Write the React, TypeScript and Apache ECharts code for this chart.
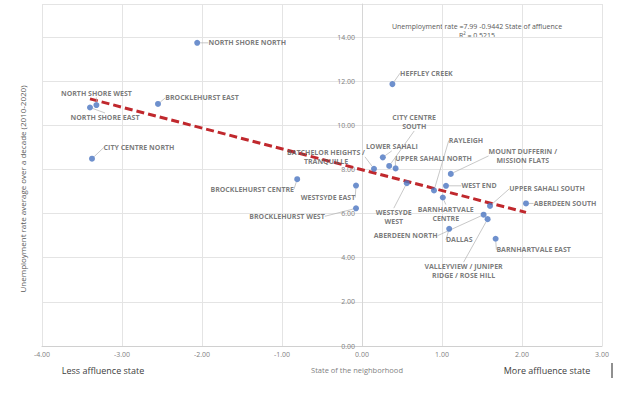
import React, { useEffect, useRef } from "react";
import * as echarts from "echarts";

const neighborhoods = [
  "NORTH SHORE NORTH",
  "HEFFLEY CREEK",
  "NORTH SHORE WEST",
  "NORTH SHORE EAST",
  "BROCKLEHURST EAST",
  "CITY CENTRE NORTH",
  "BROCKLEHURST CENTRE",
  "WESTSYDE EAST",
  "BROCKLEHURST WEST",
  "BATCHELOR HEIGHTS /\nTRANQUILLE",
  "LOWER SAHALI",
  "CITY CENTRE\nSOUTH",
  "UPPER SAHALI NORTH",
  "WESTSYDE\nWEST",
  "RAYLEIGH",
  "BARNHARTVALE\nCENTRE",
  "WEST END",
  "MOUNT DUFFERIN /\nMISSION FLATS",
  "UPPER SAHALI SOUTH",
  "ABERDEEN SOUTH",
  "ABERDEEN NORTH",
  "VALLEYVIEW / JUNIPER\nRIDGE / ROSE HILL",
  "DALLAS",
  "BARNHARTVALE EAST",
];

const affluence = [
  -2.06, 0.38, -3.32, -3.4, -2.55, -3.375, -0.81, -0.075, -0.075, 0.15, 0.26, 0.34,
  0.42, 0.56, 0.9, 1.01, 1.05, 1.11, 1.6, 2.05, 1.52, 1.57, 1.09, 1.67,
];

const unemployment = [
  13.74, 11.87, 10.92, 10.81, 10.97, 8.49, 7.56, 7.27, 6.24, 8.03, 8.55, 8.16,
  8.05, 7.38, 7.05, 6.73, 7.26, 7.8, 6.35, 6.46, 5.95, 5.75, 5.31, 4.86,
];

const xTicks = [-4, -3, -2, -1, 0, 1, 2, 3];
const yTicks = [0, 2, 4, 6, 8, 10, 12, 14];

const trendIntercept = 7.99;
const trendSlope = -0.9442;
const trendRange = [-3.4, 2.05];

// label nudges (pixels) relative to each point: [dx, dy]
const labelNudges: Record<string, [number, number]> = {
  "NORTH SHORE NORTH": [50, 0],
  "HEFFLEY CREEK": [34, -11],
  "NORTH SHORE WEST": [0, -12],
  "NORTH SHORE EAST": [15, 10],
  "BROCKLEHURST EAST": [44, -6],
  "CITY CENTRE NORTH": [47, -11],
  "BROCKLEHURST CENTRE": [-45, 10],
  "WESTSYDE EAST": [-28, 12],
  "BROCKLEHURST WEST": [-69, 8],
  "BATCHELOR HEIGHTS /\nTRANQUILLE": [-48, -12],
  "LOWER SAHALI": [9, -11],
  "CITY CENTRE\nSOUTH": [25, -44],
  "UPPER SAHALI NORTH": [38, -10],
  "WESTSYDE\nWEST": [-13, 34],
  "RAYLEIGH": [32, -50],
  "BARNHARTVALE\nCENTRE": [3, 16],
  "WEST END": [33, 0],
  "MOUNT DUFFERIN /\nMISSION FLATS": [72, -18],
  "UPPER SAHALI SOUTH": [57, -17],
  "ABERDEEN SOUTH": [39, 0],
  "ABERDEEN NORTH": [-78, 21],
  "VALLEYVIEW / JUNIPER\nRIDGE / ROSE HILL": [-24, 52],
  "DALLAS": [10, 11],
  "BARNHARTVALE EAST": [38, 11],
};

export default function App() {
  const ref = useRef<HTMLDivElement>(null);

  useEffect(() => {
    if (!ref.current) return;
    const chart = echarts.init(ref.current, undefined, { renderer: "svg" });

    const points = neighborhoods.map((n, i) => ({
      name: n,
      value: [affluence[i], unemployment[i]],
    }));

    const trend = trendRange.map((x) => [x, trendIntercept + trendSlope * x]);

    const font = "Open Sans, Lato, sans-serif";
    const gridLeft = 42;
    const gridRight = 18;
    const plotWidth = 620 - gridLeft - gridRight;
    const zeroOffset =
      (plotWidth * (0 - xTicks[0])) / (xTicks[xTicks.length - 1] - xTicks[0]);

    chart.setOption({
      animation: false,
      textStyle: { fontFamily: font },
      grid: { left: gridLeft, right: gridRight, top: 4, bottom: 52, containLabel: false },
      xAxis: {
        type: "value",
        min: xTicks[0],
        max: xTicks[xTicks.length - 1],
        interval: 1,
        axisLine: { show: true, lineStyle: { color: "#d0d0d0", width: 1 } },
        axisTick: { show: false },
        axisLabel: {
          color: "#7f7f7f",
          fontSize: 7,
          margin: 5,
          formatter: (v: number) => v.toFixed(2),
        },
        splitLine: { show: true, lineStyle: { color: "#e4e4e4", width: 1 } },
      },
      yAxis: {
        type: "value",
        position: "left",
        offset: -zeroOffset,
        min: yTicks[0],
        max: 15.5,
        interval: 2,
        axisLine: { show: true, onZero: false, lineStyle: { color: "#d6d6d6", width: 1 } },
        axisTick: { show: false },
        axisLabel: {
          color: "#7f7f7f",
          fontSize: 7,
          margin: 7,
          showMaxLabel: false,
          formatter: (v: number) => (yTicks.includes(v) ? v.toFixed(2) : ""),
        },
        splitLine: { show: true, lineStyle: { color: "#e4e4e4", width: 1 } },
      },
      series: [
        {
          type: "line",
          data: trend,
          symbol: "none",
          z: 3,
          lineStyle: { color: "#c0282d", width: 3, type: [8, 4] },
        },
        {
          type: "scatter",
          data: points,
          symbolSize: 6,
          z: 4,
          itemStyle: { color: "#4a74c0" },
          label: {
            show: true,
            position: "inside",
            formatter: (p: any) => p.name,
            color: "#595959",
            fontSize: 7,
            fontWeight: "bold",
            lineHeight: 9,
            align: "center",
            verticalAlign: "middle",
            fontFamily: font,
          },
          labelLine: {
            show: true,
            lineStyle: { color: "#b0b0b0", width: 0.7 },
          },
          labelLayout: (params: any) => {
            const nm = neighborhoods[params.dataIndex];
            const d = labelNudges[nm] || [0, 0];
            return { dx: d[0], dy: d[1] };
          },
        },
      ],
      graphic: [
        {
          type: "text",
          x: 22,
          y: 189,
          rotation: Math.PI / 2,
          style: {
            text: "Unemployment rate average over a decade (2010-2020)",
            fontSize: 8,
            fill: "#595959",
            fontFamily: font,
            align: "center",
            verticalAlign: "middle",
          },
        },
        {
          type: "text",
          x: 477,
          y: 26,
          style: {
            text: "Unemployment rate =7.99 -0.9442 State of affluence",
            fontSize: 7,
            fill: "#595959",
            fontFamily: font,
            align: "center",
            verticalAlign: "middle",
          },
        },
        {
          type: "text",
          x: 477,
          y: 35,
          style: {
            text: "R² = 0.5215",
            fontSize: 7,
            fill: "#595959",
            fontFamily: font,
            align: "center",
            verticalAlign: "middle",
          },
        },
        {
          type: "text",
          x: 357,
          y: 370,
          style: {
            text: "State of the neighborhood",
            fontSize: 7.5,
            fill: "#7f7f7f",
            fontFamily: font,
            align: "center",
            verticalAlign: "middle",
          },
        },
        {
          type: "text",
          x: 103,
          y: 370,
          style: {
            text: "Less affluence state",
            fontSize: 9,
            fill: "#404040",
            fontFamily: font,
            align: "center",
            verticalAlign: "middle",
          },
        },
        {
          type: "text",
          x: 547,
          y: 370,
          style: {
            text: "More affluence state",
            fontSize: 9,
            fill: "#404040",
            fontFamily: font,
            align: "center",
            verticalAlign: "middle",
          },
        },
        {
          type: "line",
          shape: { x1: 612, y1: 363, x2: 612, y2: 378 },
          style: { stroke: "#202020", lineWidth: 1 },
        },
      ],
    });

    return () => chart.dispose();
  }, []);

  return (
    <div
      ref={ref}
      style={{ position: "fixed", left: 0, top: 0, width: 620, height: 398, background: "#fff" }}
    />
  );
}
